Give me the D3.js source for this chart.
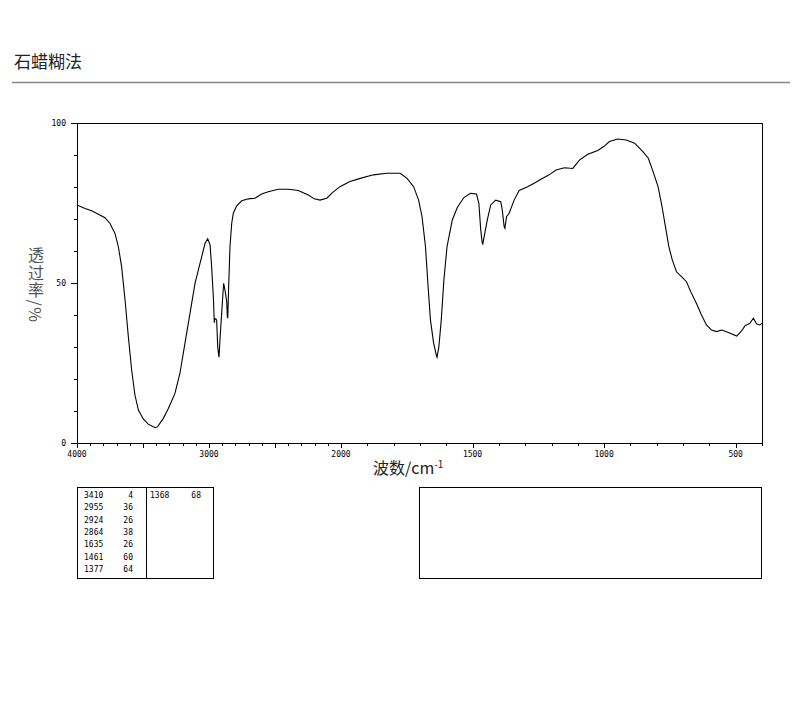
<!DOCTYPE html>
<html><head><meta charset="utf-8">
<script src="https://cdn.jsdelivr.net/npm/d3@7"></script>
<style>body{margin:0;background:#fff}svg{display:block}</style>
</head><body>
<script>
const title = "石蜡糊法";
const yLabel = "透过率/%";
const xLabel = "波数/cm";
const wavenumbers = [4000,3939,3889,3838,3788,3750,3712,3687,3662,3636,3611,3586,3561,3535,3498,3460,3422,3405,3389,3346,3308,3258,3220,3182,3144,3106,3068,3030,3010,2992,2980,2967,2960,2955,2949,2942,2934,2927,2924,2917,2904,2896,2889,2879,2866,2861,2858,2851,2841,2828,2816,2790,2752,2702,2652,2601,2551,2475,2399,2323,2248,2202,2159,2108,2058,2008,1966,1927,1877,1826,1775,1749,1724,1705,1692,1679,1669,1660,1648,1637,1635,1628,1619,1609,1597,1577,1558,1533,1508,1485,1476,1469,1463,1461,1457,1444,1431,1412,1393,1387,1380,1377,1371,1361,1342,1323,1291,1266,1240,1209,1183,1151,1119,1094,1062,1024,999,980,948,916,884,852,832,814,795,780,767,754,741,725,706,687,671,649,630,611,592,573,553,528,496,477,465,446,433,420,408,400];
const transmittance = [74.4,73.3,72.6,71.5,70.4,68.6,65.5,61.4,55.1,44.7,33.2,22.8,15.0,10.3,7.5,5.9,5.1,4.8,5.1,7.7,10.8,15.5,21.8,31.2,40.5,49.9,56.1,62.4,63.8,61.9,55.1,45.7,37.6,38.8,38.8,38.4,30.1,27.5,26.8,32.2,40.5,45.7,49.9,47.8,44.2,39.5,39.0,48.9,61.4,68.6,71.8,74.1,75.7,76.3,76.5,77.8,78.5,79.3,79.3,78.9,77.5,76.3,75.9,76.5,78.5,80.1,81.7,82.7,83.8,84.3,84.3,82.7,80.1,75.9,70.7,61.4,48.9,38.4,31.2,27.2,26.8,30.1,38.4,50.9,61.4,69.7,73.6,76.7,78.0,77.8,74.9,66.6,62.4,62.2,64.0,69.7,74.4,75.9,75.4,72.8,67.6,67.1,70.7,71.8,75.9,78.9,80.1,81.2,82.4,83.8,85.3,86.0,85.8,88.4,90.2,91.4,92.8,94.2,95.0,94.7,93.7,91.0,89.0,84.8,80.1,73.9,67.6,61.4,57.2,53.5,52.0,50.4,47.3,43.6,40.0,36.9,35.3,34.8,35.3,34.5,33.4,35.1,36.6,37.4,39.0,37.2,36.9,37.4];
const xTickLabels = [4000,3000,2000,1500,1000,500];
const yTickLabels = [0,50,100];
const peakWn = [3410,2955,2924,2864,1635,1461,1377,1368];
const peakT = [4,36,26,38,26,60,64,68];

const W = 794, H = 709;
const svg = d3.select("body").append("svg").attr("width", W).attr("height", H);
const cjk = "'Noto Sans CJK SC','Noto Sans',sans-serif";
const mono = "'DejaVu Sans Mono','Liberation Mono',monospace";

// title and rule
svg.append("text").attr("x", 14).attr("y", 68).attr("font-family", cjk).attr("font-size", 17).attr("fill", "#222").text(title);
svg.append("line").attr("x1", 12).attr("x2", 790).attr("y1", 82.5).attr("y2", 82.5).attr("stroke", "#888").attr("stroke-width", 1.5);

const L = 77, R = 762, T = 123, B = 443;
const x = d3.scaleLinear().domain([4000, 2000, 400]).range([L, 341, R]);
const y = d3.scaleLinear().domain([0, 100]).range([B, T]);

// frame
svg.append("rect").attr("x", L + 0.5).attr("y", T + 0.5).attr("width", R - L).attr("height", B - T)
  .attr("fill", "none").attr("stroke", "#000").attr("stroke-width", 1);

// x ticks
const xt = d3.range(4000, 399, -100);
svg.append("g").selectAll("line").data(xt).join("line")
  .attr("x1", d => Math.round(x(d)) + 0.5).attr("x2", d => Math.round(x(d)) + 0.5)
  .attr("y1", B).attr("y2", d => B + (d % 500 === 0 ? 5 : 3))
  .attr("stroke", "#000");
svg.append("g").selectAll("text").data(xTickLabels).join("text")
  .attr("x", d => x(d)).attr("y", 457).attr("text-anchor", "middle")
  .attr("font-family", mono).attr("font-size", 8).attr("fill", "#000").text(d => d);

// y ticks
const yt = d3.range(0, 101, 10);
svg.append("g").selectAll("line").data(yt).join("line")
  .attr("y1", d => Math.round(y(d)) + 0.5).attr("y2", d => Math.round(y(d)) + 0.5)
  .attr("x1", L).attr("x2", d => L - (d % 50 === 0 ? 6 : 3))
  .attr("stroke", "#000");
svg.append("g").selectAll("text").data(yTickLabels).join("text")
  .attr("x", 66).attr("y", d => y(d) + 3).attr("text-anchor", "end")
  .attr("font-family", mono).attr("font-size", 8).attr("fill", "#000").text(d => d);

// spectrum
const line = d3.line().x((d, i) => x(wavenumbers[i])).y(d => y(d));
svg.append("path").datum(transmittance).attr("d", line)
  .attr("fill", "none").attr("stroke", "#000").attr("stroke-width", 1.1);

// y axis label: vertical writing (CJK upright, "/%" sideways)
svg.append("text").attr("x", 36).attr("y", 247)
  .attr("font-family", cjk).attr("font-size", 16).attr("fill", "#555")
  .style("writing-mode", "vertical-rl").style("letter-spacing", "1.5px").text(yLabel);

const xl = svg.append("text").attr("x", 373).attr("y", 474)
  .attr("font-family", cjk).attr("font-size", 16).attr("fill", "#222");
xl.append("tspan").text(xLabel);
xl.append("tspan").attr("dy", -6).attr("font-size", 10).text("-1");

// peak table
svg.append("rect").attr("x", 77.5).attr("y", 487.5).attr("width", 136).attr("height", 91).attr("fill", "none").attr("stroke", "#000");
svg.append("line").attr("x1", 146.5).attr("x2", 146.5).attr("y1", 487.5).attr("y2", 578.5).attr("stroke", "#000");
const rows = peakWn.map((w, i) => ({w, t: peakT[i], col: i < 7 ? 0 : 1, row: i < 7 ? i : i - 7}));
const tg = svg.append("g").attr("font-family", mono).attr("font-size", 8).attr("fill", "#000");
tg.selectAll(".w").data(rows).join("text").attr("class", "w")
  .attr("x", d => d.col === 0 ? 84 : 150).attr("y", d => 498 + d.row * 12.3).text(d => d.w);
tg.selectAll(".t").data(rows).join("text").attr("class", "t")
  .attr("x", d => d.col === 0 ? 133 : 201).attr("y", d => 498 + d.row * 12.3).attr("text-anchor", "end").text(d => d.t);

svg.append("rect").attr("x", 419.5).attr("y", 487.5).attr("width", 342).attr("height", 91).attr("fill", "none").attr("stroke", "#000");
</script>
</body></html>
